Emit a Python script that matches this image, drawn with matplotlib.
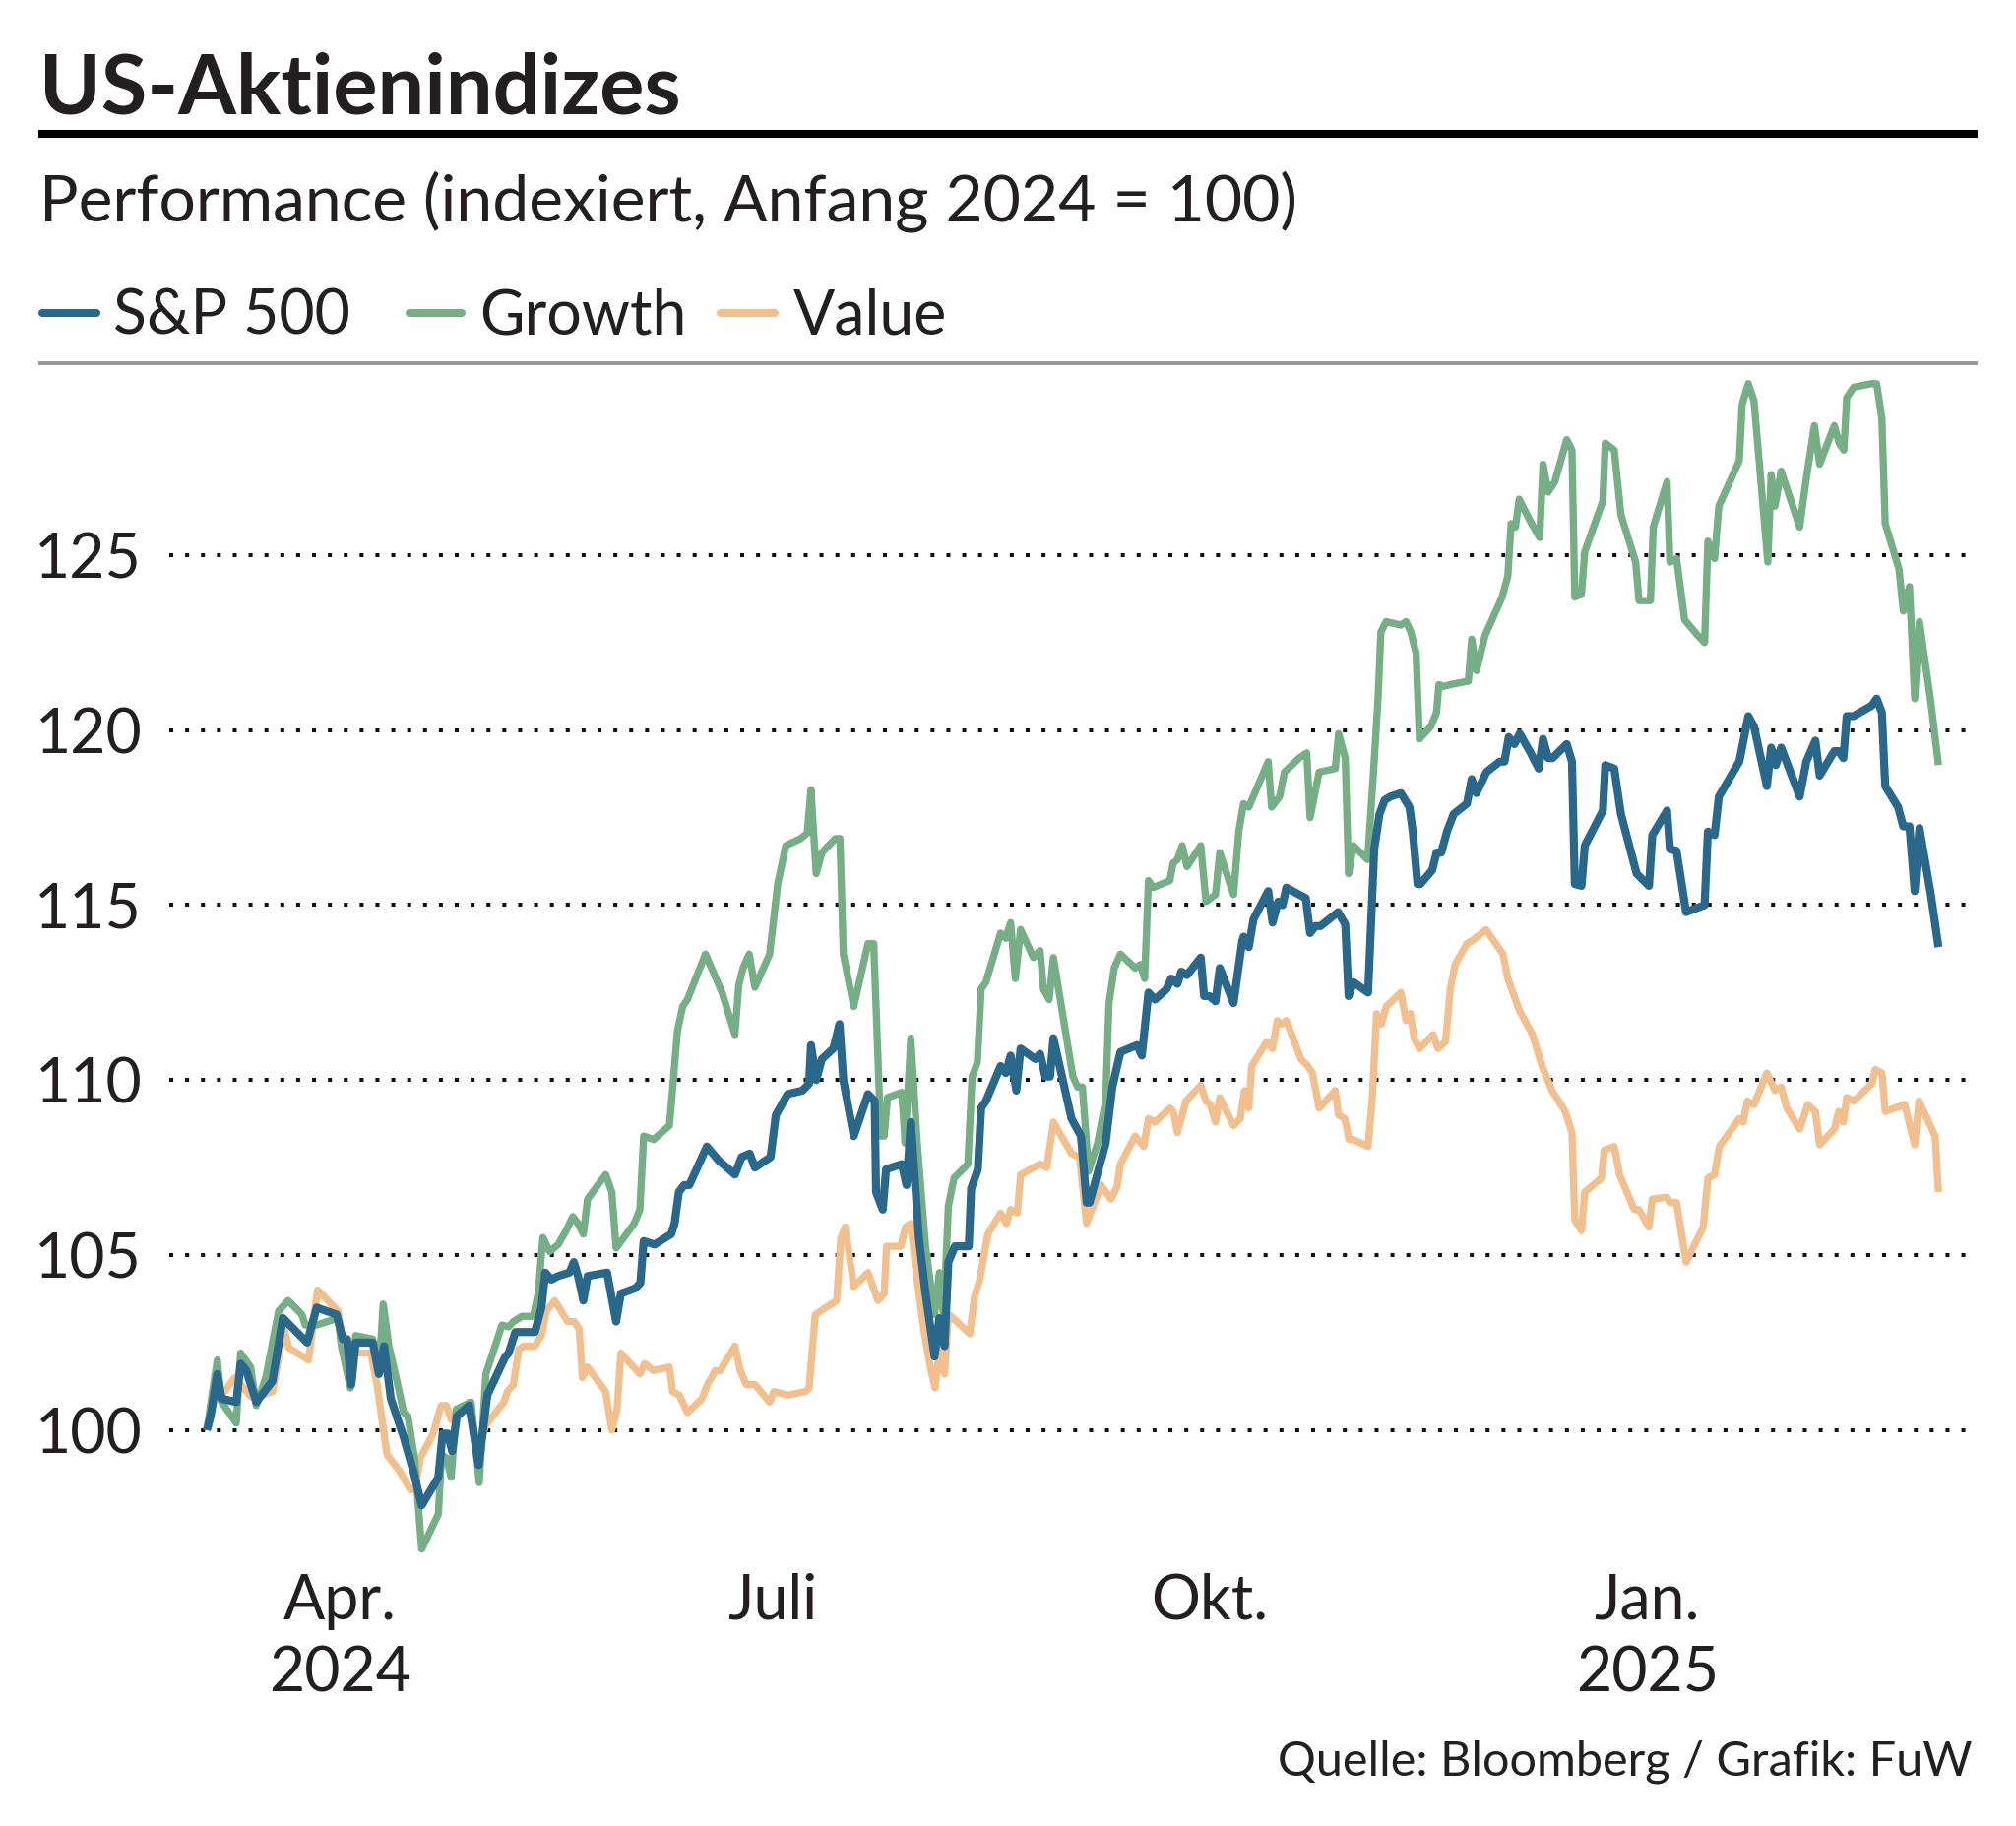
import matplotlib
matplotlib.use("Agg")
import matplotlib.pyplot as plt
from matplotlib.lines import Line2D
import pandas as pd

plt.rcParams['font.family'] = ['Lato', 'DejaVu Sans']

# ---------------- data ----------------
start_date = "2024-03-04"   # first observation, index = 100

sp_days = [0, 0.8, 2.2, 3.1, 6.2, 7.1, 8.3, 10.4, 13.8, 16.0, 21.1, 23.1, 27.3, 28.6, 29.5,
           30.4, 31.3, 34.9, 36.2, 37.3, 38.7, 41.4, 43.5, 45.2, 48.7, 49.6, 50.7, 51.6, 52.6,
           55.2, 57.2, 59.0, 62.8, 63.5, 64.9, 66.3, 69.0, 70.4, 71.2, 72.5, 73.9, 76.3, 77.2,
           78.1, 79.2, 80.1, 84.2, 86.1, 87.1, 90.1, 91.2, 91.9, 94.2, 97.7, 98.4, 99.3, 100.4,
           101.5, 105.2, 107.7, 111.1, 112.5, 114.2, 115.3, 118.6, 119.7, 122.2, 125.3, 126.7,
           127.1, 128.2, 129.4, 131.8, 133.1, 133.9, 136.1, 139.1, 140.5, 140.8, 142.2, 142.9,
           146.2, 147.2, 148.1, 149.8, 151.2, 153.1, 154.1, 155.2, 156.0, 157.4, 160.3, 160.8,
           162.2, 162.9, 163.9, 167.0, 168.1, 169.1, 170.3, 171.2, 174.3, 175.3, 176.4, 177.4,
           178.1, 181.9, 183.9, 185.1, 185.7, 189.1, 190.5, 192.2, 195.7, 196.7, 198.1, 199.5,
           201.9, 202.9, 204.2, 205.0, 206.2, 209.1, 209.8, 210.9, 212.2, 213.1, 216.0, 217.8,
           218.1, 219.2, 220.2, 223.3, 224.2, 225.4, 226.3, 227.1, 229.8, 231.2, 232.1, 233.2,
           234.3, 238.0, 239.5, 240.2, 241.2, 244.3, 245.6, 246.7, 247.8, 249.0, 251.2, 253.0,
           253.7, 254.7, 255.3, 257.8, 258.7, 259.7, 260.9, 262.3, 265.1, 266.1, 267.1, 269.2,
           272.0, 273.0, 273.9, 275.1, 276.2, 278.5, 280.2, 281.1, 282.2, 283.1, 286.1, 287.2,
           287.8, 289.2, 289.9, 293.7, 294.2, 296.1, 297.5, 300.8, 303.4, 304.1, 307.2, 307.8,
           309.2, 311.2, 315.1, 315.8, 317.2, 318.1, 322.4, 324.3, 325.5, 328.2, 329.1, 330.1,
           331.2, 335.1, 336.5, 338.4, 339.3, 342.4, 343.3, 344.3, 345.0, 346.4, 350.3, 351.3,
           352.4, 353.1, 355.8, 356.9, 358.2, 359.3, 360.3, 362.7, 364.3]
sp_vals = [100.0, 100.4, 101.6, 100.9, 100.8, 101.9, 101.7, 100.8, 101.4, 103.2, 102.5, 103.5,
           103.3, 102.6, 102.6, 101.3, 102.5, 102.5, 101.6, 102.4, 100.9, 99.8, 98.8, 97.85,
           98.65, 99.9, 99.9, 99.4, 100.4, 100.7, 99.0, 101.0, 102.1, 102.2, 102.8, 102.8,
           102.8, 103.5, 104.5, 104.3, 104.4, 104.5, 104.8, 104.4, 103.7, 104.4, 104.5, 103.1,
           103.9, 104.05, 104.2, 105.4, 105.3, 105.6, 105.9, 106.8, 107.0, 107.0, 108.1, 107.7,
           107.3, 107.8, 107.9, 107.5, 107.8, 109.0, 109.6, 109.7, 109.9, 111.0, 110.0, 110.6,
           110.9, 111.6, 110.0, 108.4, 109.6, 109.4, 106.8, 106.3, 107.45, 107.6, 107.0, 108.8,
           105.5, 103.9, 102.1, 103.2, 102.4, 104.8, 105.25, 105.25, 106.9, 107.45, 109.2,
           109.4, 110.4, 110.2, 110.7, 109.7, 110.9, 110.6, 110.75, 110.1, 110.1, 111.2, 108.9,
           108.4, 106.5, 106.5, 108.2, 109.8, 110.8, 111.0, 110.7, 112.5, 112.3, 112.6, 112.9,
           112.75, 113.1, 113.0, 113.5, 112.4, 112.4, 112.25, 113.2, 112.2, 113.95, 114.1,
           113.8, 114.6, 115.4, 114.5, 115.1, 115.0, 115.5, 115.3, 115.2, 114.2, 114.4, 114.4,
           114.8, 114.45, 112.4, 112.8, 112.5, 116.6, 117.6, 118.0, 118.1, 118.2, 117.8, 117.1,
           115.6, 115.6, 116.0, 116.5, 116.5, 117.1, 117.6, 117.9, 118.6, 118.2, 118.8, 119.1,
           119.1, 119.8, 119.6, 119.9, 119.35, 118.9, 119.75, 119.2, 119.2, 119.6, 119.1, 115.6,
           115.55, 116.7, 117.7, 119.0, 118.9, 117.6, 115.9, 115.55, 117.0, 117.7, 116.6,
           116.55, 114.8, 115.0, 117.1, 117.0, 118.1, 119.1, 120.4, 120.1, 118.4, 119.5, 119.0,
           119.5, 118.1, 119.1, 119.7, 118.7, 119.4, 119.4, 119.2, 120.4, 120.4, 120.7, 120.9,
           120.5, 118.4, 117.8, 117.25, 117.25, 115.4, 117.2, 115.3, 113.8]

growth_days = [0, 2.2, 3.1, 6.2, 7.1, 9.2, 10.4, 12.4, 15.1, 17.1, 20.0, 20.7, 23.1, 27.6, 28.3,
               30.2, 31.3, 34.9, 36.2, 37.1, 38.3, 40.0, 41.4, 42.3, 43.7, 45.2, 48.7, 49.4,
               50.4, 51.4, 52.5, 55.6, 57.3, 58.7, 62.1, 63.5, 64.5, 66.3, 68.7, 69.7, 70.7,
               72.1, 73.9, 75.6, 77.0, 78.1, 79.2, 80.1, 83.9, 85.2, 86.1, 89.9, 91.1, 91.9,
               94.0, 97.3, 97.9, 99.0, 100.1, 101.1, 104.9, 108.4, 111.1, 111.9, 112.8, 114.1,
               115.3, 118.4, 120.1, 121.8, 124.9, 126.3, 127.1, 128.2, 129.4, 132.2, 133.2,
               133.9, 136.1, 139.1, 140.3, 141.8, 142.5, 143.2, 146.2, 146.9, 148.1, 149.4,
               151.2, 153.1, 154.1, 155.0, 156.0, 157.2, 160.1, 161.0, 162.1, 162.9, 163.9,
               167.0, 168.1, 169.1, 170.1, 171.2, 173.9, 175.3, 176.0, 177.2, 178.1, 182.2,
               183.2, 184.2, 185.5, 187.4, 189.1, 189.8, 190.9, 192.2, 195.3, 196.4, 197.3,
               198.1, 199.1, 202.6, 203.3, 204.2, 205.2, 206.2, 209.1, 210.2, 212.2, 213.1,
               216.0, 217.1, 218.1, 219.2, 223.3, 224.0, 225.7, 226.7, 229.8, 231.4, 232.1,
               234.0, 237.4, 238.1, 239.5, 240.2, 241.2, 244.2, 245.4, 246.4, 247.0, 248.1,
               251.2, 252.3, 253.3, 254.4, 255.1, 257.5, 258.7, 259.2, 260.2, 261.6, 265.4,
               266.1, 267.1, 268.9, 272.5, 273.7, 274.4, 275.3, 276.1, 278.5, 280.4, 281.1,
               282.2, 283.6, 286.1, 287.2, 287.8, 289.2, 289.9, 293.7, 294.2, 296.1, 297.5,
               300.6, 301.3, 303.7, 304.3, 307.2, 307.8, 309.2, 310.9, 313.7, 315.1, 315.8,
               317.2, 318.1, 322.4, 323.0, 324.3, 325.5, 328.4, 329.1, 329.9, 331.2, 335.1,
               336.5, 338.2, 339.3, 342.4, 343.4, 344.4, 345.0, 346.5, 350.3, 351.3, 352.4,
               353.1, 356.0, 356.9, 358.2, 359.3, 360.3, 362.7, 364.3]
growth_vals = [100.0, 102.0, 100.8, 100.2, 102.2, 101.8, 100.7, 101.5, 103.4, 103.7, 103.3,
               103.0, 103.0, 103.2, 102.4, 101.2, 102.7, 102.6, 101.7, 103.6, 102.4, 101.4,
               100.5, 100.4, 99.2, 96.6, 97.6, 99.3, 99.2, 98.65, 100.6, 100.8, 98.5, 101.6,
               103.0, 102.95, 103.1, 103.25, 103.25, 103.9, 105.5, 105.1, 105.3, 105.7, 106.1,
               105.9, 105.6, 106.6, 107.3, 106.8, 105.2, 105.9, 106.3, 108.4, 108.3, 108.7,
               109.6, 111.4, 112.1, 112.3, 113.6, 112.5, 111.3, 112.7, 113.2, 113.6, 112.65,
               113.6, 115.6, 116.7, 116.9, 117.05, 118.3, 115.9, 116.5, 116.9, 116.9, 113.6,
               112.1, 113.9, 113.9, 108.4, 108.4, 109.5, 109.65, 108.2, 111.2, 108.3, 105.25,
               103.3, 104.5, 103.2, 106.4, 107.2, 107.6, 110.1, 110.5, 112.6, 112.8, 114.2,
               114.05, 114.5, 112.9, 114.3, 113.5, 113.7, 112.6, 112.3, 113.5, 110.1, 109.8,
               109.8, 107.4, 108.2, 109.4, 112.2, 113.2, 113.6, 113.2, 113.3, 112.9, 115.7,
               115.5, 115.7, 116.2, 116.3, 116.7, 116.1, 116.7, 115.1, 115.3, 116.5, 115.3,
               117.1, 117.9, 117.8, 119.1, 117.8, 118.1, 118.8, 119.2, 119.35, 117.5, 118.8,
               118.9, 119.9, 119.2, 115.9, 116.7, 116.3, 118.7, 120.9, 122.8, 123.1, 123.0,
               123.1, 122.8, 122.2, 119.75, 120.1, 120.5, 121.3, 121.25, 121.3, 121.4, 122.6,
               121.7, 122.7, 123.8, 124.4, 125.9, 125.8, 126.6, 125.95, 125.5, 127.6, 126.8,
               127.1, 128.3, 128.0, 123.8, 123.9, 125.1, 126.55, 128.2, 128.0, 126.15, 124.8,
               123.7, 123.7, 125.8, 127.1, 124.8, 124.9, 123.15, 122.7, 122.5, 125.4, 124.9,
               126.4, 127.7, 129.3, 129.9, 129.4, 124.8, 127.3, 126.4, 127.4, 125.8, 127.2,
               128.7, 127.6, 128.7, 128.2, 128.0, 129.5, 129.8, 129.9, 129.9, 128.9, 125.9,
               124.6, 123.4, 124.1, 120.9, 123.1, 120.8, 119.0]

value_days = [0, 1.4, 3.1, 5.9, 9.3, 11.7, 13.8, 16.2, 17.3, 21.4, 23.3, 27.6, 28.6, 30.4, 34.5,
              35.8, 37.9, 40.7, 42.8, 43.8, 44.9, 47.6, 49.3, 50.4, 51.4, 53.2, 55.2, 56.9, 58.7,
              62.5, 63.2, 64.5, 65.6, 66.6, 69.0, 70.4, 71.4, 73.2, 75.9, 77.3, 78.3, 79.0, 80.1,
              83.9, 85.2, 86.3, 87.1, 91.1, 92.1, 93.9, 97.3, 98.0, 99.4, 101.1, 104.2, 105.3,
              107.0, 108.0, 111.1, 112.2, 113.5, 115.3, 118.4, 119.3, 122.2, 125.9, 126.7, 128.0,
              129.1, 132.5, 133.4, 134.3, 136.1, 139.1, 141.2, 142.5, 143.0, 146.0, 147.0, 148.1,
              149.4, 150.8, 152.2, 153.2, 154.1, 155.2, 156.0, 157.0, 160.5, 161.5, 162.6, 164.3,
              167.0, 168.2, 169.1, 170.5, 171.2, 175.3, 176.7, 178.1, 181.9, 183.6, 185.1, 188.1,
              190.2, 191.5, 192.2, 195.3, 197.1, 198.1, 199.5, 202.6, 203.3, 204.2, 206.0, 209.1,
              210.2, 211.1, 212.2, 213.1, 216.0, 217.4, 218.3, 219.2, 219.8, 223.0, 224.2, 225.2,
              226.1, 227.1, 230.2, 231.6, 232.6, 234.0, 237.4, 238.1, 239.4, 240.3, 241.2, 244.3,
              245.2, 246.1, 247.1, 248.1, 251.2, 252.3, 253.2, 254.0, 255.1, 258.0, 259.0, 260.6,
              261.6, 262.6, 265.1, 266.4, 269.1, 272.7, 273.7, 276.1, 278.9, 280.9, 283.0, 285.8,
              287.2, 287.8, 289.2, 289.9, 293.4, 294.0, 296.1, 297.2, 300.3, 301.3, 303.4, 304.1,
              307.2, 307.8, 309.2, 311.2, 314.8, 315.8, 317.2, 318.2, 322.4, 323.2, 324.1, 325.5,
              328.2, 329.9, 331.2, 332.4, 335.1, 336.8, 338.4, 339.3, 342.4, 343.3, 344.3, 345.0,
              346.5, 350.3, 351.0, 352.4, 353.1, 357.2, 359.3, 360.2, 363.6, 364.3]
value_vals = [100.0, 100.8, 101.0, 101.5, 100.95, 101.0, 101.1, 102.9, 102.35, 102.0, 104.0,
              103.4, 102.5, 102.2, 102.2, 101.3, 99.3, 98.8, 98.3, 98.3, 99.2, 99.9, 100.7,
              100.7, 100.3, 100.5, 100.8, 99.35, 100.15, 100.8, 101.1, 101.3, 102.3, 102.4,
              102.4, 102.7, 103.4, 103.7, 103.1, 103.1, 102.9, 101.5, 101.8, 101.1, 100.0, 100.6,
              102.2, 101.6, 101.9, 101.7, 101.8, 101.1, 101.0, 100.5, 100.9, 101.3, 101.7, 101.7,
              102.4, 101.7, 101.3, 101.3, 100.8, 101.1, 101.0, 101.1, 101.2, 103.3, 103.4, 103.7,
              105.5, 105.8, 104.1, 104.5, 103.7, 103.9, 105.25, 105.25, 105.8, 105.9, 104.3,
              102.9, 101.8, 101.2, 102.3, 101.6, 103.3, 103.2, 102.75, 103.8, 104.3, 105.6,
              106.2, 105.9, 106.3, 106.2, 107.3, 107.6, 107.5, 108.8, 107.9, 107.8, 105.9, 107.0,
              106.6, 106.95, 107.6, 108.4, 108.1, 108.9, 108.8, 109.2, 109.1, 108.5, 109.4,
              109.85, 109.4, 109.3, 108.8, 109.5, 108.7, 108.9, 109.7, 109.2, 110.4, 111.1,
              110.9, 111.7, 111.6, 111.7, 110.6, 110.4, 110.2, 109.2, 109.7, 109.0, 108.9, 108.3,
              108.3, 108.1, 109.5, 111.9, 111.6, 112.1, 112.5, 111.7, 111.9, 111.2, 110.9, 111.3,
              110.9, 111.1, 112.6, 113.3, 113.9, 114.0, 114.3, 113.6, 112.9, 112.0, 111.3, 110.4,
              109.7, 109.1, 108.5, 106.0, 105.7, 106.8, 107.2, 108.0, 108.1, 107.3, 106.3, 106.3,
              105.8, 106.6, 106.65, 106.5, 106.5, 104.8, 105.8, 107.2, 107.3, 108.1, 108.9,
              108.8, 109.4, 109.3, 110.2, 109.7, 109.8, 109.2, 108.6, 109.3, 109.1, 108.15,
              108.6, 109.1, 108.8, 109.5, 109.4, 109.9, 110.3, 110.2, 109.1, 109.3, 108.15,
              109.4, 108.4, 106.8]

series_names = ["S&P 500", "Growth", "Value"]
series_colors = ["#29688A", "#76AE86", "#F1C08E"]

y_ticks = [100, 105, 110, 115, 120, 125]
x_tick_dates = ["2024-04-01", "2024-07-01", "2024-10-01", "2025-01-01"]
x_tick_labels = ["Apr.\n2024", "Juli", "Okt.", "Jan.\n2025"]

title = "US-Aktienindizes"
subtitle = "Performance (indexiert, Anfang 2024 = 100)"
source = "Quelle: Bloomberg / Grafik: FuW"

# ---------------- figure ----------------
W, H, DPI = 2048, 1855, 100
fig = plt.figure(figsize=(W / DPI, H / DPI), dpi=DPI)
fig.patch.set_facecolor("white")
txt = "#231f20"

def fx(px):
    return px / W

def fy(py):
    return 1 - py / H

t0 = pd.Timestamp(start_date)
def to_dates(days):
    return [t0 + pd.Timedelta(days=d) for d in days]

ax = fig.add_axes([fx(172), fy(1595), fx(2004) - fx(172), fy(368.4) - fy(1595)])
ax.set_facecolor("none")

ax.plot(to_dates(value_days), value_vals, color=series_colors[2], lw=5.3,
        solid_joinstyle="round", solid_capstyle="butt", zorder=3)
ax.plot(to_dates(growth_days), growth_vals, color=series_colors[1], lw=5.3,
        solid_joinstyle="round", solid_capstyle="butt", zorder=4)
ax.plot(to_dates(sp_days), sp_vals, color=series_colors[0], lw=5.9,
        solid_joinstyle="round", solid_capstyle="butt", zorder=5)

ax.set_xlim(t0 - pd.Timedelta(days=7.9), t0 + pd.Timedelta(days=371.5))
ax.set_ylim(96.0, 130.5)

for yv in y_ticks:
    ax.axhline(yv, color="#111111", lw=2.9, linestyle=(0, (1, 3.0)),
               dash_capstyle="butt", zorder=1)

ax.set_yticks(y_ticks)
ax.set_yticklabels([str(v) for v in y_ticks])
ax.set_xticks([pd.Timestamp(d) for d in x_tick_dates])
ax.set_xticklabels(x_tick_labels)
ax.tick_params(axis="y", length=0, pad=20, labelsize=45, labelcolor=txt)
ax.tick_params(axis="x", length=0, pad=2, labelsize=45, labelcolor=txt)
for lab in ax.get_xticklabels():
    lab.set_linespacing(1.33)
for s in ax.spines.values():
    s.set_visible(False)

# ---------------- header ----------------
fig.text(fx(40), fy(115), title, fontsize=61, fontweight="bold", color=txt,
         ha="left", va="baseline")
fig.add_artist(Line2D([fx(39), fx(2009)], [fy(136), fy(136)], color="#000000",
                      lw=5.8, solid_capstyle="butt"))
fig.text(fx(40), fy(225), subtitle, fontsize=47.5, color=txt, ha="left", va="baseline")

# legend (manual, like the original)
leg_handles_px = [(43, 98), (416, 469), (732, 787)]
leg_text_px = [115, 487, 806]
for (x0, x1), xt, name, col in zip(leg_handles_px, leg_text_px, series_names, series_colors):
    fig.add_artist(Line2D([fx(x0), fx(x1)], [fy(318), fy(318)], color=col, lw=5.8,
                          solid_capstyle="round"))
    fig.text(fx(xt), fy(340), name, fontsize=45, color=txt, ha="left", va="baseline")

fig.add_artist(Line2D([fx(39), fx(2009)], [fy(368.5), fy(368.5)], color="#999999",
                      lw=2.9, solid_capstyle="butt"))

fig.text(fx(2004), fy(1804), source, fontsize=35, color=txt, ha="right", va="baseline")

fig.savefig("out.png", dpi=DPI, facecolor="white")
